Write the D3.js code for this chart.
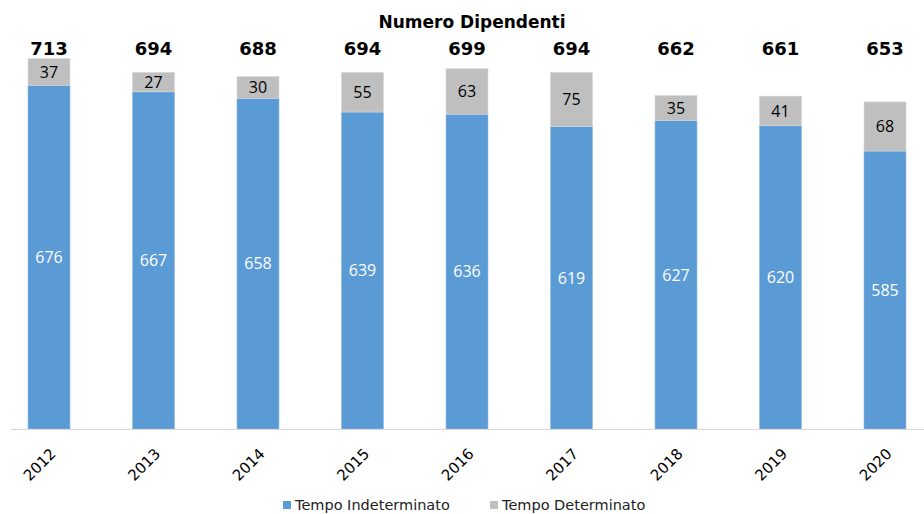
<!DOCTYPE html>
<html>
<head>
<meta charset="utf-8">
<script src="https://cdn.jsdelivr.net/npm/d3@7"></script>
<style>
  html, body { margin: 0; padding: 0; background: #fff; }
  #chart { width: 924px; height: 514px; }
</style>
</head>
<body>
<div id="chart"></div>
<script>
// Numero Dipendenti: stacked bars per anno
const YEARS = ["2012", "2013", "2014", "2015", "2016", "2017", "2018", "2019", "2020"];
const INDET = [676, 667, 658, 639, 636, 619, 627, 620, 585];
const DET = [37, 27, 30, 55, 63, 75, 35, 41, 68];
const TOTALS = [713, 694, 688, 694, 699, 694, 662, 661, 653];
const SERIES = ["Tempo Indeterminato", "Tempo Determinato"];

const W = 924, H = 514;
const BLUE = "#5B9BD5", GRAY = "#BFBFBF";

const svg = d3.select("#chart").append("svg")
  .attr("width", W).attr("height", H).attr("viewBox", `0 0 ${W} ${H}`);

const x = d3.scalePoint().domain(YEARS).range([-3.25, 937.25]).padding(0.5);
// asse verticale non parte da 0
const y = d3.scaleLinear().domain([200, 750]).range([429, 429 - 550 * 0.722]);
const bw = 42;

// titolo
svg.append("text").attr("x", 472).attr("y", 27.5).attr("text-anchor", "middle")
  .attr("font-family", "DejaVu Sans").attr("font-weight", "bold").attr("font-size", 17)
  .attr("fill", "#000").text("Numero Dipendenti");

const rows = YEARS.map((yr, i) => ({ yr, a: INDET[i], b: DET[i], t: TOTALS[i] }));

const g = svg.append("g");
const bar = g.selectAll("g.bar").data(rows).join("g").attr("class", "bar");

bar.append("rect")
  .attr("x", d => x(d.yr) - bw / 2).attr("width", bw)
  .attr("y", d => y(d.a)).attr("height", d => y(200) - y(d.a))
  .attr("fill", BLUE).attr("stroke", "#8FBCE6").attr("stroke-width", 0.6);
bar.append("rect")
  .attr("x", d => x(d.yr) - bw / 2).attr("width", bw)
  .attr("y", d => y(d.a + d.b)).attr("height", d => y(d.a) - y(d.a + d.b))
  .attr("fill", GRAY).attr("stroke", "#D9D9D9").attr("stroke-width", 0.6);

// etichette interne
bar.append("text")
  .attr("x", d => x(d.yr)).attr("y", d => (y(d.a) + y(200)) / 2)
  .attr("dy", "0.36em").attr("text-anchor", "middle")
  .attr("font-family", "Open Sans").attr("font-size", 16).attr("fill", "#fff")
  .text(d => d.a);
bar.append("text")
  .attr("x", d => x(d.yr)).attr("y", d => (y(d.a) + y(d.a + d.b)) / 2)
  .attr("dy", "0.36em").attr("text-anchor", "middle")
  .attr("font-family", "Open Sans").attr("font-size", 16).attr("fill", "#000")
  .text(d => d.b);

// totali
bar.append("text")
  .attr("x", d => x(d.yr)).attr("y", 55)
  .attr("text-anchor", "middle")
  .attr("font-family", "DejaVu Sans").attr("font-weight", "bold").attr("font-size", 18)
  .attr("fill", "#000").text(d => d.t);

// asse x
svg.append("line").attr("x1", 11).attr("x2", W).attr("y1", 429.5).attr("y2", 429.5)
  .attr("stroke", "#D9D9D9").attr("stroke-width", 1);

svg.append("g").selectAll("text").data(YEARS).join("text")
  .attr("transform", d => `translate(${x(d) + 4},${451}) rotate(-45)`)
  .attr("text-anchor", "end").attr("dy", "0.35em")
  .attr("font-family", "DejaVu Sans").attr("font-size", 15).attr("fill", "#000")
  .text(d => d);

// legenda
const leg = svg.append("g");
const LX = [283, 490];
SERIES.forEach((s, i) => {
  leg.append("rect").attr("x", LX[i]).attr("y", 501).attr("width", 8).attr("height", 8)
    .attr("fill", i === 0 ? BLUE : GRAY);
  leg.append("text").attr("x", LX[i] + 12).attr("y", 510)
    .attr("font-family", "DejaVu Sans").attr("font-size", 14.5).attr("fill", "#222")
    .text(s);
});
</script>
</body>
</html>
